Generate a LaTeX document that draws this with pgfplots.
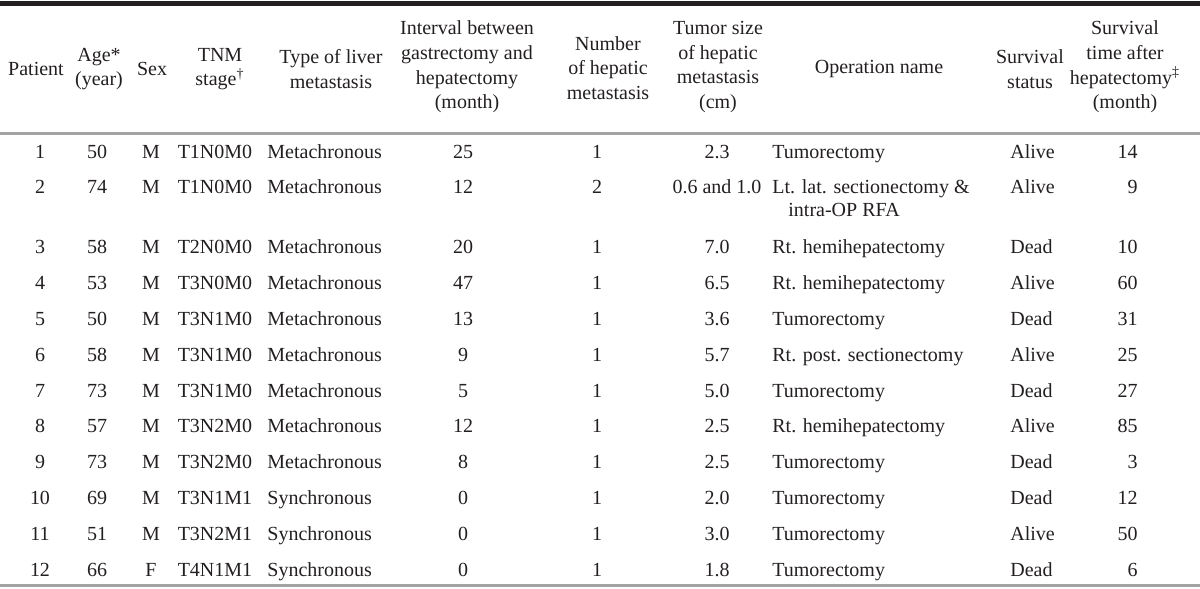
\documentclass[border=0pt]{standalone}
\usepackage{pgfplots}
\usepackage{pgfplotstable}
\pgfplotsset{compat=1.18}
\usepackage{fontspec}
\setmainfont{Liberation Serif}
\definecolor{txt}{HTML}{231F20}
\definecolor{rule}{HTML}{A3A3A3}
\newcommand{\dat}{\fontsize{10}{12.3}\selectfont}

\pgfplotstableread[col sep=comma]{
y,pat,age,sex,tnm,type,intv,num,size,op,stat,surv
158.5,1,50,M,T1N0M0,Metachronous,25,1,2.3,Tumorectomy,Alive,14
193.5,2,74,M,T1N0M0,Metachronous,12,2,0.6 and 1.0,{Lt. lat. sectionectomy \&},Alive,9
253.5,3,58,M,T2N0M0,Metachronous,20,1,7.0,Rt. hemihepatectomy,Dead,10
289.5,4,53,M,T3N0M0,Metachronous,47,1,6.5,Rt. hemihepatectomy,Alive,60
325.5,5,50,M,T3N1M0,Metachronous,13,1,3.6,Tumorectomy,Dead,31
361.5,6,58,M,T3N1M0,Metachronous,9,1,5.7,Rt. post. sectionectomy,Alive,25
397.5,7,73,M,T3N1M0,Metachronous,5,1,5.0,Tumorectomy,Dead,27
432.5,8,57,M,T3N2M0,Metachronous,12,1,2.5,Rt. hemihepatectomy,Alive,85
468.5,9,73,M,T3N2M0,Metachronous,8,1,2.5,Tumorectomy,Dead,3
504.5,10,69,M,T3N1M1,Synchronous,0,1,2.0,Tumorectomy,Dead,12
540.5,11,51,M,T3N2M1,Synchronous,0,1,3.0,Tumorectomy,Alive,50
576.5,12,66,F,T4N1M1,Synchronous,0,1,1.8,Tumorectomy,Dead,6
}\tbl

\newcommand{\col}[3]{\addplot[draw=none, mark=none, nodes near coords,
  point meta=explicit symbolic,
  every node near coord/.append style={anchor=#3, font=\dat, inner sep=0pt, text=txt}]
  table[x expr=#1, y=y, meta=#2] {\tbl};}

\begin{document}
\begin{tikzpicture}
\begin{axis}[scale only axis, width=600pt, height=294.5pt,
  xmin=0, xmax=1200, ymin=0, ymax=589, y dir=reverse,
  hide axis, clip=false]
% rules
\addplot[line width=2.6pt, color=txt] coordinates {(0,3.5) (1200,3.5)};
\addplot[line width=1.1pt, color=rule] coordinates {(0,133.5) (1200,133.5)};
\addplot[line width=1.1pt, color=rule] coordinates {(0,585.5) (1200,585.5)};
% header
\begin{scope}[every node/.style={font=\dat, align=center, text=txt, inner sep=0pt}]
\node at (axis cs:36,69) {Patient};
\node at (axis cs:99,69) {Age*\\(year)};
\node at (axis cs:152,69) {Sex};
\node at (axis cs:220,69) {TNM\\stage\textsuperscript{†}};
\node at (axis cs:331,69) {Type of liver\\metastasis};
\node at (axis cs:467,67) {Interval between\\gastrectomy and\\hepatectomy\\(month)};
\node at (axis cs:608,68) {Number\\of hepatic\\metastasis};
\node at (axis cs:718,67) {Tumor size\\of hepatic\\metastasis\\(cm)};
\node at (axis cs:879,69) {Operation name};
\node at (axis cs:1030,69) {Survival\\status};
\node at (axis cs:1125,67) {Survival\\time after\\hepatectomy\textsuperscript{‡}\\(month)};
\end{scope}
% body
\col{40}{pat}{base}
\col{97}{age}{base}
\col{151}{sex}{base}
\col{215}{tnm}{base}
\col{267}{type}{base west}
\col{463}{intv}{base}
\col{597}{num}{base}
\col{717}{size}{base}
\col{772}{op}{base west}
\col{1010}{stat}{base west}
\col{1138}{surv}{base east}
\node[font=\dat, text=txt, anchor=base west, inner sep=0pt] at (axis cs:788,216.5) {intra-OP RFA};
\end{axis}
\pgfresetboundingbox
\path (current axis.south west) rectangle (current axis.north east);
\end{tikzpicture}
\end{document}
